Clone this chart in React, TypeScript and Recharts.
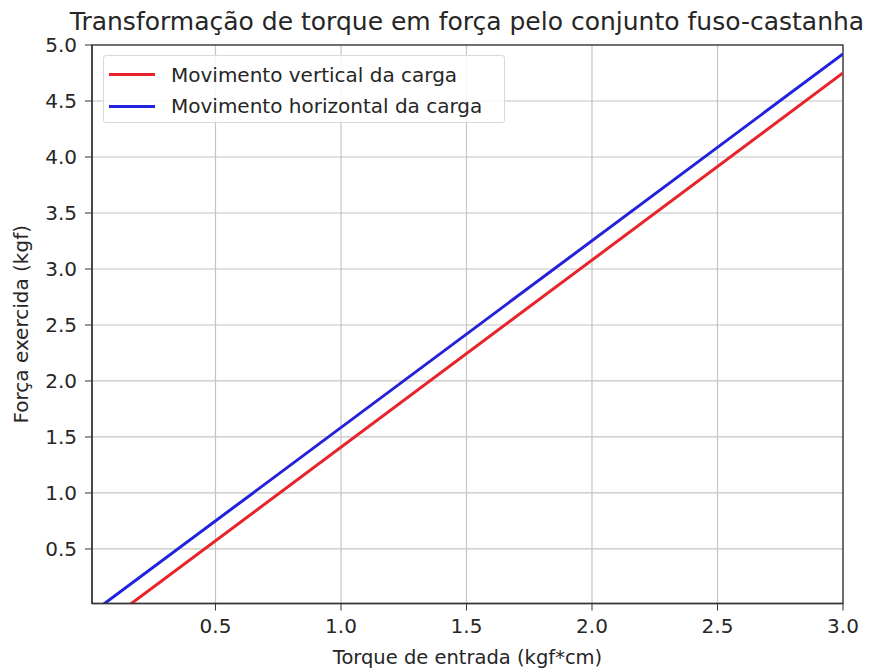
import React from "react";
import {
  LineChart,
  Line,
  XAxis,
  YAxis,
  CartesianGrid,
  Label,
} from "recharts";

const TITLE = "Transformação de torque em força pelo conjunto fuso-castanha";
const X_LABEL = "Torque de entrada (kgf*cm)";
const Y_LABEL = "Força exercida (kgf)";

// endpoints (straight lines)
const VERTICAL_SERIES = [
  { x: 0.157, y: 0 },
  { x: 3.0, y: 4.75 },
];
const HORIZONTAL_SERIES = [
  { x: 0.05, y: 0 },
  { x: 3.0, y: 4.92 },
];

const SERIES_NAMES = ["Movimento vertical da carga", "Movimento horizontal da carga"];
const SERIES_COLORS = ["#e8242a", "#2222dd"];

const X_TICKS = [0.5, 1.0, 1.5, 2.0, 2.5, 3.0];
const Y_TICKS = [0.5, 1.0, 1.5, 2.0, 2.5, 3.0, 3.5, 4.0, 4.5, 5.0];

const FONT = "'DejaVu Sans', sans-serif";
const TEXT = "#262626";
const AXIS = "#333";

function LegendBox() {
  return (
    <div
      style={{
        position: "absolute",
        left: 103,
        top: 55,
        width: 402,
        height: 68,
        background: "rgba(255,255,255,0.85)",
        border: "1px solid #d9d9d9",
        borderRadius: 3,
        boxSizing: "border-box",
        paddingTop: 3,
        fontFamily: FONT,
        fontSize: 20,
        color: TEXT,
      }}
    >
      {SERIES_NAMES.map((name, i) => (
        <div key={name} style={{ display: "flex", alignItems: "center", height: 31.5, whiteSpace: "nowrap" }}>
          <div style={{ width: 46, height: 3, background: SERIES_COLORS[i], marginLeft: 5, marginRight: 16 }} />
          <span>{name}</span>
        </div>
      ))}
    </div>
  );
}

export default function App() {
  return (
    <div style={{ position: "absolute", left: 0, top: 0, width: 872, height: 671, background: "#fff" }}>
      <div
        style={{
          position: "absolute",
          left: 0,
          top: 7,
          width: 934,
          textAlign: "center",
          fontFamily: FONT,
          fontSize: 25,
          color: TEXT,
          whiteSpace: "nowrap",
        }}
      >
        {TITLE}
      </div>
      <LineChart
        width={872}
        height={671}
        margin={{ top: 45, right: 29, bottom: 0, left: 0 }}
        style={{ fontFamily: FONT }}
      >
        <CartesianGrid stroke="#c4c4c4" strokeWidth={1.2} />
        <XAxis
          type="number"
          dataKey="x"
          domain={[0.008, 3.0]}
          ticks={X_TICKS}
          allowDataOverflow
          height={67.5}
          tickFormatter={(v: number) => v.toFixed(1)}
          tick={{ fontSize: 20, fill: TEXT }}
          tickSize={7}
          tickMargin={8}
          stroke={AXIS}
          axisLine={{ stroke: AXIS, strokeWidth: 1.3 }}
        >
          <Label value={X_LABEL} position="insideBottom" offset={7} style={{ fontSize: 19.5, fill: TEXT }} />
        </XAxis>
        <YAxis
          type="number"
          dataKey="y"
          domain={[0.013, 5.0]}
          ticks={Y_TICKS}
          allowDataOverflow
          width={92}
          tickFormatter={(v: number) => v.toFixed(1)}
          tick={{ fontSize: 20, fill: TEXT }}
          tickSize={7}
          tickMargin={8}
          stroke={AXIS}
          axisLine={{ stroke: AXIS, strokeWidth: 1.3 }}
        >
          <Label
            value={Y_LABEL}
            angle={-90}
            position="insideLeft"
            offset={21}
            style={{ fontSize: 20, fill: TEXT, textAnchor: "middle" }}
          />
        </YAxis>
        <Line
          data={VERTICAL_SERIES}
          dataKey="y"
          name={SERIES_NAMES[0]}
          stroke={SERIES_COLORS[0]}
          strokeWidth={3}
          dot={false}
          isAnimationActive={false}
        />
        <Line
          data={HORIZONTAL_SERIES}
          dataKey="y"
          name={SERIES_NAMES[1]}
          stroke={SERIES_COLORS[1]}
          strokeWidth={3}
          dot={false}
          isAnimationActive={false}
        />
        {/* frame top/right */}
        <rect x={92} y={45} width={751} height={558.5} fill="none" stroke={AXIS} strokeWidth={1.3} />
      </LineChart>
      <LegendBox />
    </div>
  );
}
